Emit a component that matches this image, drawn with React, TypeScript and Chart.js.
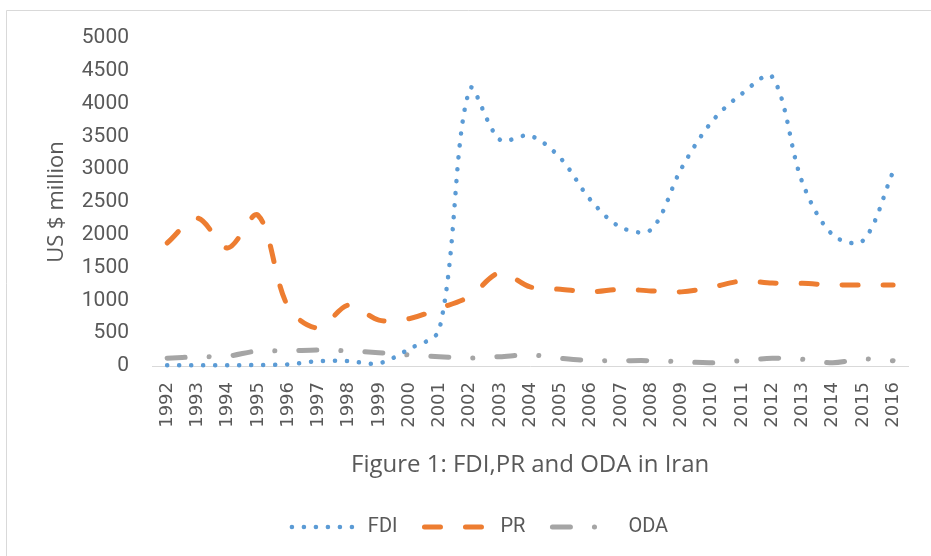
import React, { useEffect, useRef } from "react";
import { Chart, registerables } from "chart.js";

Chart.register(...registerables);

const years = [
  "1992", "1993", "1994", "1995", "1996", "1997", "1998", "1999", "2000",
  "2001", "2002", "2003", "2004", "2005", "2006", "2007", "2008", "2009",
  "2010", "2011", "2012", "2013", "2014", "2015", "2016",
];

const fdi = [
  10, 10, 10, 15, 25, 75, 75, 40, 260, 560, 4220, 3450, 3510, 3170, 2530,
  2115, 2080, 3010, 3720, 4150, 4410, 2800, 2000, 1910, 2960,
];

const pr = [
  1875, 2255, 1800, 2300, 900, 580, 930, 700, 720, 880, 1060, 1420, 1205,
  1170, 1130, 1170, 1145, 1130, 1200, 1295, 1265, 1260, 1235, 1235, 1235,
];

const oda = [
  120, 140, 150, 230, 230, 245, 230, 203, 168, 142, 120, 142, 168, 117, 81,
  81, 81, 65, 50, 81, 117, 102, 50, 107, 81,
];

const yTicksMin = 0;
const yTicksMax = 5000;
const yTicksStep = 500;

const seriesNames = ["FDI", "PR", "ODA"];
const xTitle = "Figure 1: FDI,PR and ODA in Iran";
const yTitle = "US $ million";

const textColor = "#595959";

const frame = {
  id: "frame",
  beforeDraw(chart: any) {
    const ctx = chart.ctx;
    ctx.save();
    ctx.fillStyle = "#ffffff";
    ctx.fillRect(0, 0, chart.width, chart.height);
    ctx.strokeStyle = "#D9D9D9";
    ctx.lineWidth = 1;
    ctx.beginPath();
    ctx.moveTo(6.5, chart.height);
    ctx.lineTo(6.5, 10.5);
    ctx.lineTo(chart.width, 10.5);
    ctx.stroke();
    ctx.restore();
  },
};

export default function App() {
  const ref = useRef<HTMLCanvasElement | null>(null);

  useEffect(() => {
    if (!ref.current) return;
    const common = {
      fill: false,
      pointRadius: 0,
      pointHoverRadius: 0,
      tension: 0.33,
      borderCapStyle: "round",
      borderJoinStyle: "round",
      clip: false,
    };
    const chart = new Chart(ref.current, {
      type: "line",
      data: {
        labels: years,
        datasets: [
          {
            ...common,
            label: seriesNames[0],
            data: fdi,
            borderColor: "#5B9BD5",
            backgroundColor: "#5B9BD5",
            borderWidth: 4.5,
            borderDash: [0.1, 11.9],
          },
          {
            ...common,
            label: seriesNames[1],
            data: pr,
            borderColor: "#ED7D31",
            backgroundColor: "#ED7D31",
            borderWidth: 5,
            borderDash: [16, 25],
          },
          {
            ...common,
            label: seriesNames[2],
            data: oda,
            borderColor: "#A5A5A5",
            backgroundColor: "#A5A5A5",
            borderWidth: 5,
            borderDash: [18, 24, 0.1, 24],
          },
        ],
      } as any,
      options: {
        animation: false,
        responsive: false,
        events: [],
        layout: { padding: { left: 44, right: 15, top: 38, bottom: 9 } },
        plugins: {
          tooltip: { enabled: false },
          legend: {
            position: "bottom",
            labels: {
              usePointStyle: true,
              pointStyle: "line",
              pointStyleWidth: 66,
              boxHeight: 20,
              padding: 27,
              color: textColor,
              font: { family: "Roboto", size: 20 },
              generateLabels(chart: any) {
                return chart.data.datasets.map((ds: any, i: number) => ({
                  text: ds.label,
                  fillStyle: "rgba(0,0,0,0)",
                  strokeStyle: ds.borderColor,
                  lineWidth: ds.borderWidth,
                  lineDash: ds.borderDash,
                  lineDashOffset: 0,
                  lineCap: "round",
                  lineJoin: "round",
                  pointStyle: "line",
                  rotation: 0,
                  hidden: false,
                  fontColor: textColor,
                  datasetIndex: i,
                }));
              },
            },
          },
        },
        scales: {
          x: {
            offset: true,
            grid: { display: false, drawTicks: false },
            border: { display: true, color: "#D9D9D9", width: 1 },
            ticks: {
              autoSkip: false,
              minRotation: 90,
              maxRotation: 90,
              padding: 16,
              color: textColor,
              font: { family: "DejaVu Sans", size: 18 },
            },
            title: {
              display: true,
              text: xTitle,
              color: textColor,
              font: { family: "Open Sans", size: 24 },
              padding: { top: 0, bottom: 10 },
            },
            afterFit(scale: any) {
              scale.height = 124;
            },
          },
          y: {
            min: yTicksMin,
            max: yTicksMax,
            grid: { display: false, drawTicks: false },
            border: { display: false },
            ticks: {
              stepSize: yTicksStep,
              padding: 23,
              color: textColor,
              font: { family: "Roboto", size: 21 },
              callback: (v: any) => String(v),
            },
            title: {
              display: true,
              text: yTitle,
              color: textColor,
              font: { family: "Open Sans", size: 22 },
              padding: { top: 0, bottom: 0 },
            },
            afterFit(scale: any) {
              scale.width = 108;
            },
          },
        },
      } as any,
      plugins: [frame],
    });
    return () => chart.destroy();
  }, []);

  return (
    <div style={{ position: "fixed", left: 0, top: 0, width: 931, height: 556, background: "#fff" }}>
      <canvas ref={ref} width={931} height={556} style={{ display: "block" }} />
    </div>
  );
}
